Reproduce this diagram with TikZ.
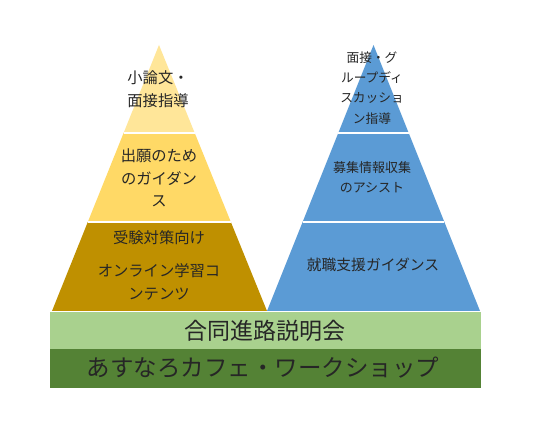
\documentclass[tikz,border=0pt]{standalone}
\usepackage{fontspec}
\newfontfamily\jp{Noto Sans CJK JP}
\usetikzlibrary{calc}
\definecolor{ytop}{HTML}{FFE699}
\definecolor{ymid}{HTML}{FFD966}
\definecolor{ybot}{HTML}{BF9000}
\definecolor{blu}{HTML}{5B9BD5}
\definecolor{lgreen}{HTML}{A9D18E}
\definecolor{dgreen}{HTML}{548235}
\definecolor{txt}{HTML}{262626}
\tikzset{
  lbl/.style 2 args={text=txt, align=center, inner sep=0pt, font=\jp\fontsize{#1}{#2}\selectfont},
  divider/.style={draw=white, line width=1.2pt},
}
\begin{document}
\begin{tikzpicture}[x=1pt,y=-1pt]
\useasboundingbox[fill=white] (0,0) rectangle (536,430);
% left pyramid
\coordinate (LA) at (159,45);
\coordinate (LBL) at (52,311);
\coordinate (LBR) at (267,311);
\coordinate (L1l) at ($(LA)!0.3308!(LBL)$);
\coordinate (L1r) at ($(LA)!0.3308!(LBR)$);
\coordinate (L2l) at ($(LA)!0.6654!(LBL)$);
\coordinate (L2r) at ($(LA)!0.6654!(LBR)$);
\fill[ytop] (LA) -- (L1r) -- (L1l) -- cycle;
\fill[ymid] (L1l) -- (L1r) -- (L2r) -- (L2l) -- cycle;
\fill[ybot] (L2l) -- (L2r) -- (LBR) -- (LBL) -- cycle;
\draw[divider] (L1l) -- (L1r);
\draw[divider] (L2l) -- (L2r);
% right pyramid
\coordinate (RA) at (373.5,45);
\coordinate (RBL) at (267,311);
\coordinate (RBR) at (480,311);
\coordinate (R1l) at ($(RA)!0.3308!(RBL)$);
\coordinate (R1r) at ($(RA)!0.3308!(RBR)$);
\coordinate (R2l) at ($(RA)!0.6654!(RBL)$);
\coordinate (R2r) at ($(RA)!0.6654!(RBR)$);
\fill[blu] (RA) -- (RBR) -- (RBL) -- cycle;
\draw[divider] (R1l) -- (R1r);
\draw[divider] (R2l) -- (R2r);
% bands
\fill[lgreen] (50,312) rectangle (481,349);
\fill[dgreen] (50,349) rectangle (481,388);
% texts
\node[lbl={15.3}{23}] (t1) at (158,89) {小論文・\\面接指導};
\node[lbl={15.3}{22.5}] (t2) at (159,178) {出願のため\\のガイダン\\ス};
\node[lbl={15.3}{23}] (t3) at (159,238) {受験対策向け};
\node[lbl={15.3}{23}] (t4) at (159,281.5) {オンライン学習コ\\ンテンツ};
\node[lbl={12.7}{20.3}] (t5) at (372,88) {面接・グ\\ループディ\\スカッショ\\ン指導};
\node[lbl={13}{20}] (t6) at (372,177) {募集情報収集\\のアシスト};
\node[lbl={14.8}{23}] (t7) at (373,265) {就職支援ガイダンス};
\node[lbl={23}{23}] (t8) at (265,331) {合同進路説明会};
\node[lbl={23.5}{23.5}] (t9) at (263,368) {あすなろカフェ・ワークショップ};
\end{tikzpicture}
\end{document}
